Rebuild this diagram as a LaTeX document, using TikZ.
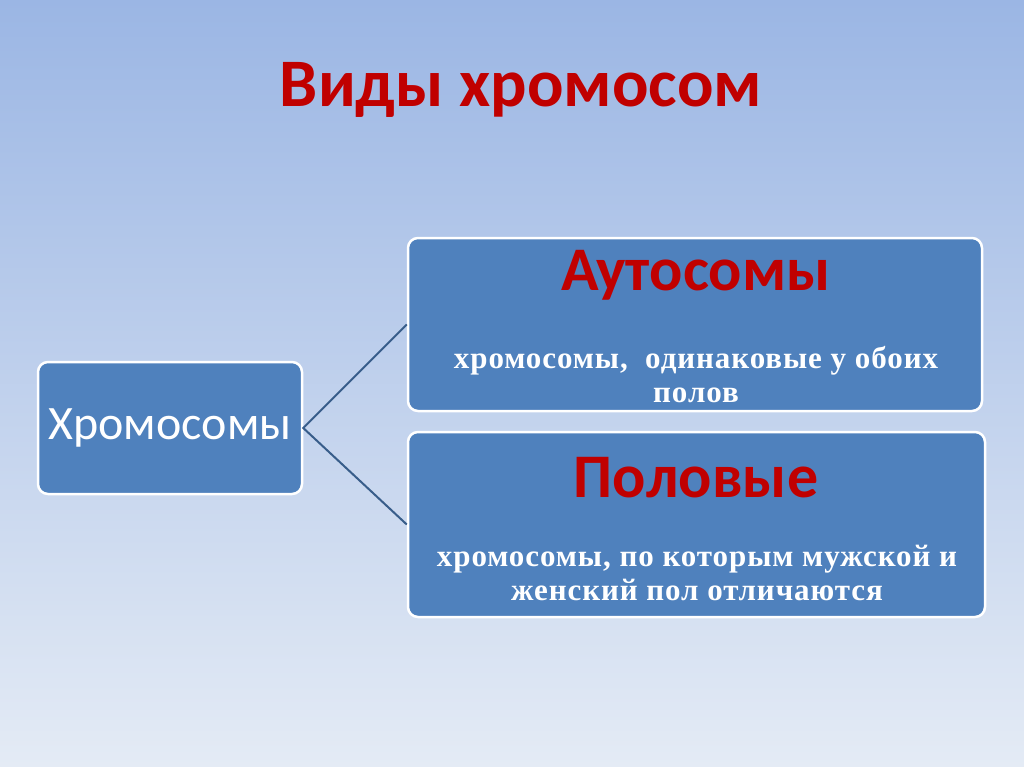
\documentclass[tikz,border=0pt]{standalone}
\usepackage{fontspec}
\setmainfont{Liberation Serif}
\newfontfamily\calfont{Carlito}
\newfontfamily\descfont[LetterSpace=3]{Liberation Serif}
\definecolor{boxblue}{RGB}{79,129,189}
\definecolor{linecol}{RGB}{56,93,138}
\definecolor{titlered}{RGB}{192,0,0}
\definecolor{bgtop}{RGB}{155,182,228}
\definecolor{bgbot}{RGB}{228,235,245}
\tikzset{
  box/.style={draw=white, line width=2.5pt, fill=boxblue, rounded corners=10pt, inner sep=0pt},
  link/.style={draw=linecol, line width=2pt},
  head/.style={text=titlered, font=\calfont\bfseries\fontsize{62}{62}\selectfont},
  desc/.style={text=white, font=\descfont\bfseries\fontsize{31}{34}\selectfont, align=center}
}
\begin{document}
\begin{tikzpicture}[x=1pt,y=-1pt]
\shade[top color=bgtop, bottom color=bgbot] (0,0) rectangle (1024,767);
\useasboundingbox (0,0) rectangle (1024,767);
\node[text=titlered, font=\calfont\bfseries\fontsize{68}{68}\selectfont] (title) at (521,90) {Виды хромосом};
\node[box, minimum width=264pt, minimum height=132pt, text=white, font=\calfont\fontsize{48}{48}\selectfont] (chr) at (170,428) {Хромосомы};
\node[box, minimum width=574pt, minimum height=173pt] (abox) at (695,324.5) {};
\node[box, minimum width=577pt, minimum height=185pt] (pbox) at (696.5,524.5) {};
\node[head] (at) at (696,275) {Аутосомы};
\node[desc] (ad) at (696,375) {хромосомы,\ \ одинаковые у обоих\\полов};
\node[head] (pt) at (696,478) {Половые};
\node[desc] (pd) at (697,573) {хромосомы, по которым мужской и\\женский пол отличаются};
\draw[link] (abox.west) -- (chr.east) -- (pbox.west);
\end{tikzpicture}
\end{document}
